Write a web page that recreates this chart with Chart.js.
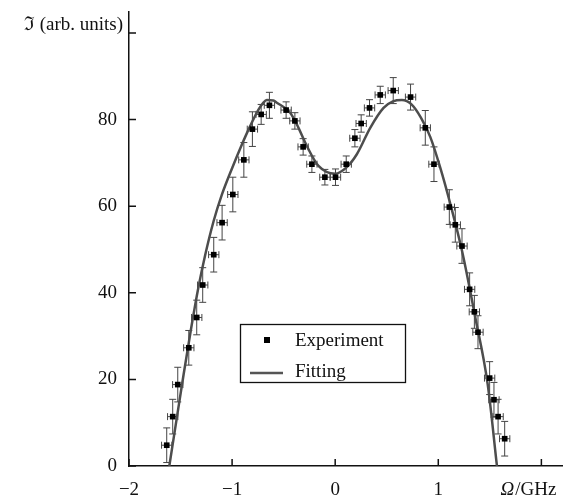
<!DOCTYPE html>
<html>
<head>
<meta charset="utf-8">
<script src="https://cdn.jsdelivr.net/npm/chart.js@4.4.1/dist/chart.umd.min.js"></script>
<style>
  html, body { margin: 0; padding: 0; background: #fff; }
  #wrap { width: 566px; height: 501px; }
</style>
</head>
<body>
<div id="wrap"><canvas id="grafica"></canvas></div>
<script>
const expX = [-1.634, -1.576, -1.527, -1.42, -1.343, -1.285, -1.178, -1.097, -0.993, -0.886, -0.803, -0.718, -0.638,
  -0.476, -0.391, -0.311, -0.226, -0.100, 0.003, 0.107, 0.191, 0.252, 0.333, 0.437, 0.563, 0.731, 0.874, 0.958,
  1.107, 1.165, 1.23, 1.304, 1.35, 1.385, 1.498, 1.54, 1.58, 1.644];
const expY = [4.8, 11.4, 18.8, 27.3, 34.3, 41.8, 48.8, 56.2, 62.7, 70.7, 77.8, 81.2, 83.3,
  82.2, 79.7, 73.7, 69.7, 66.7, 66.7, 69.7, 75.7, 79.1, 82.7, 85.7, 86.7, 85.2, 78.1, 69.7,
  59.8, 55.7, 50.8, 40.8, 35.6, 30.9, 20.3, 15.3, 11.4, 6.3];
const errY = [4, 4, 4, 4, 4, 4, 4, 4, 4, 4, 4, 2.3, 3,
  1.9, 1.9, 1.9, 1.9, 1.8, 1.9, 1.9, 2, 2, 1.9, 2, 3, 3, 4, 4,
  4, 4, 4, 3.8, 3.8, 3.8, 3.8, 4, 4, 4];
const errX = expX.map(() => 0.05);

// curva de ajuste
const fitX = [-1.609, -1.537, -1.47, -1.40, -1.327, -1.262, -1.181, -1.10, -1.003, -0.906, -0.825, -0.744, -0.70, -0.663,
  -0.60, -0.566, -0.437, -0.372, -0.275, -0.162, 0,
  0.107, 0.21, 0.34, 0.469, 0.56, 0.647, 0.74, 0.83, 0.922, 1.019, 1.117, 1.23, 1.359, 1.479, 1.569];
const fitY = [0, 11, 21.2, 31.4, 41.2, 48.6, 56.4, 62.6, 68.6, 74.2, 78.5, 82.3, 83.8, 84.5,
  84.4, 83.9, 81.6, 78.9, 73.9, 69.3, 67.5,
  68.9, 72, 78.1, 82.7, 84.2, 84.5, 83.5, 80.5, 76.0, 68.9, 60.5, 49.7, 34.3, 18.9, 0];

const xTicks = [-2, -1, 0, 1, 2];
const yTicks = [0, 20, 40, 60, 80, 100];

const FUENTE = '"Liberation Serif", "DejaVu Serif", serif';

// barras de error
const barrasError = {
  id: 'barrasError',
  beforeDatasetsDraw(chart) {
    const ctx = chart.ctx;
    const sx = chart.scales.x, sy = chart.scales.y;
    ctx.save();
    ctx.strokeStyle = '#444';
    ctx.lineWidth = 1;
    for (let i = 0; i < expX.length; i++) {
      const px = sx.getPixelForValue(expX[i]);
      const py = sy.getPixelForValue(expY[i]);
      const y1 = sy.getPixelForValue(expY[i] + errY[i]);
      const y2 = sy.getPixelForValue(expY[i] - errY[i]);
      const x1 = sx.getPixelForValue(expX[i] - errX[i]);
      const x2 = sx.getPixelForValue(expX[i] + errX[i]);
      ctx.beginPath();
      ctx.moveTo(px, y1); ctx.lineTo(px, y2);
      ctx.moveTo(px - 3.5, y1); ctx.lineTo(px + 3.5, y1);
      ctx.moveTo(px - 3.5, y2); ctx.lineTo(px + 3.5, y2);
      ctx.moveTo(x1, py); ctx.lineTo(x2, py);
      ctx.moveTo(x1, py - 3.5); ctx.lineTo(x1, py + 3.5);
      ctx.moveTo(x2, py - 3.5); ctx.lineTo(x2, py + 3.5);
      ctx.stroke();
    }
    ctx.restore();
  }
};

// marcas de los ejes hacia adentro, titulos y leyenda
const decoracion = {
  id: 'decoracion',
  afterDraw(chart) {
    const ctx = chart.ctx;
    const sx = chart.scales.x, sy = chart.scales.y;
    const area = chart.chartArea;
    ctx.save();
    ctx.strokeStyle = '#111';
    ctx.lineWidth = 1.5;
    ctx.beginPath();
    xTicks.forEach(v => {
      const p = sx.getPixelForValue(v);
      ctx.moveTo(p, area.bottom); ctx.lineTo(p, area.bottom - 7);
    });
    yTicks.forEach(v => {
      const p = sy.getPixelForValue(v);
      ctx.moveTo(area.left, p); ctx.lineTo(area.left + 7, p);
    });
    ctx.stroke();

    // titulo eje y
    ctx.fillStyle = '#111';
    ctx.font = '19px ' + FUENTE;
    ctx.textAlign = 'right';
    ctx.textBaseline = 'middle';
    ctx.fillText('\u2111 (arb. units)', 123, 25);

    // titulo eje x
    ctx.textAlign = 'left';
    ctx.font = 'italic 19px ' + FUENTE;
    const wO = ctx.measureText('\u03A9').width;
    ctx.font = '19px ' + FUENTE;
    const wR = ctx.measureText('/GHz').width;
    const x0 = 528 - (wO + wR) / 2;
    ctx.font = 'italic 19px ' + FUENTE;
    ctx.fillText('\u03A9', x0, 490);
    ctx.font = '19px ' + FUENTE;
    ctx.fillText('/GHz', x0 + wO + 1, 490);

    // leyenda
    ctx.fillStyle = '#fff';
    ctx.fillRect(240, 324, 165, 58);
    ctx.strokeStyle = '#111';
    ctx.lineWidth = 1.3;
    ctx.strokeRect(240.5, 324.5, 165, 58);
    ctx.fillStyle = '#000';
    ctx.fillRect(264, 337, 6, 6);
    ctx.strokeStyle = '#555';
    ctx.lineWidth = 2.5;
    ctx.beginPath();
    ctx.moveTo(250, 373); ctx.lineTo(283, 373);
    ctx.stroke();
    ctx.fillStyle = '#111';
    ctx.textBaseline = 'alphabetic';
    ctx.fillText('Experiment', 295, 346);
    ctx.fillText('Fitting', 295, 377);
    ctx.restore();
  }
};

new Chart(document.getElementById('grafica').getContext('2d'), {
  type: 'scatter',
  data: {
    datasets: [{
      label: 'Experiment',
      data: expX.map((x, i) => ({ x: x, y: expY[i] })),
      pointStyle: 'rect',
      pointRadius: 4,
      backgroundColor: '#000',
      borderColor: '#000',
      borderWidth: 0,
      order: 1
    }, {
      label: 'Fitting',
      type: 'line',
      data: fitX.map((x, i) => ({ x: x, y: fitY[i] })),
      borderColor: '#4d4d4d',
      borderWidth: 2.5,
      pointRadius: 0,
      fill: false,
      cubicInterpolationMode: 'monotone',
      order: 2
    }]
  },
  options: {
    responsive: true,
    maintainAspectRatio: false,
    animation: false,
    events: [],
    layout: { padding: { top: 12, right: 0, left: 0, bottom: 0 } },
    scales: {
      x: {
        type: 'linear',
        min: -2,
        max: 2.2,
        afterBuildTicks: s => { s.ticks = xTicks.map(v => ({ value: v })); },
        afterFit: s => { s.height = 35; s.paddingLeft = 0; s.paddingRight = 0; },
        grid: { display: false, drawTicks: false },
        border: { display: true, color: '#111', width: 1.5 },
        ticks: {
          padding: 13,
          color: '#111',
          font: { family: FUENTE, size: 19 },
          maxRotation: 0,
          callback: v => v === 2 ? '' : (v < 0 ? '\u2212' + Math.abs(v) : String(v))
        }
      },
      y: {
        type: 'linear',
        min: 0,
        max: 104.85,
        afterBuildTicks: s => { s.ticks = yTicks.map(v => ({ value: v })); },
        afterFit: s => { s.width = 129; s.paddingTop = 0; s.paddingBottom = 0; },
        grid: { display: false, drawTicks: false },
        border: { display: true, color: '#111', width: 1.5 },
        ticks: {
          padding: 12,
          color: '#111',
          font: { family: FUENTE, size: 19 },
          callback: v => v === 100 ? '' : String(v)
        }
      }
    },
    plugins: {
      legend: { display: false },
      tooltip: { enabled: false }
    }
  },
  plugins: [barrasError, decoracion]
});
</script>
</body>
</html>
